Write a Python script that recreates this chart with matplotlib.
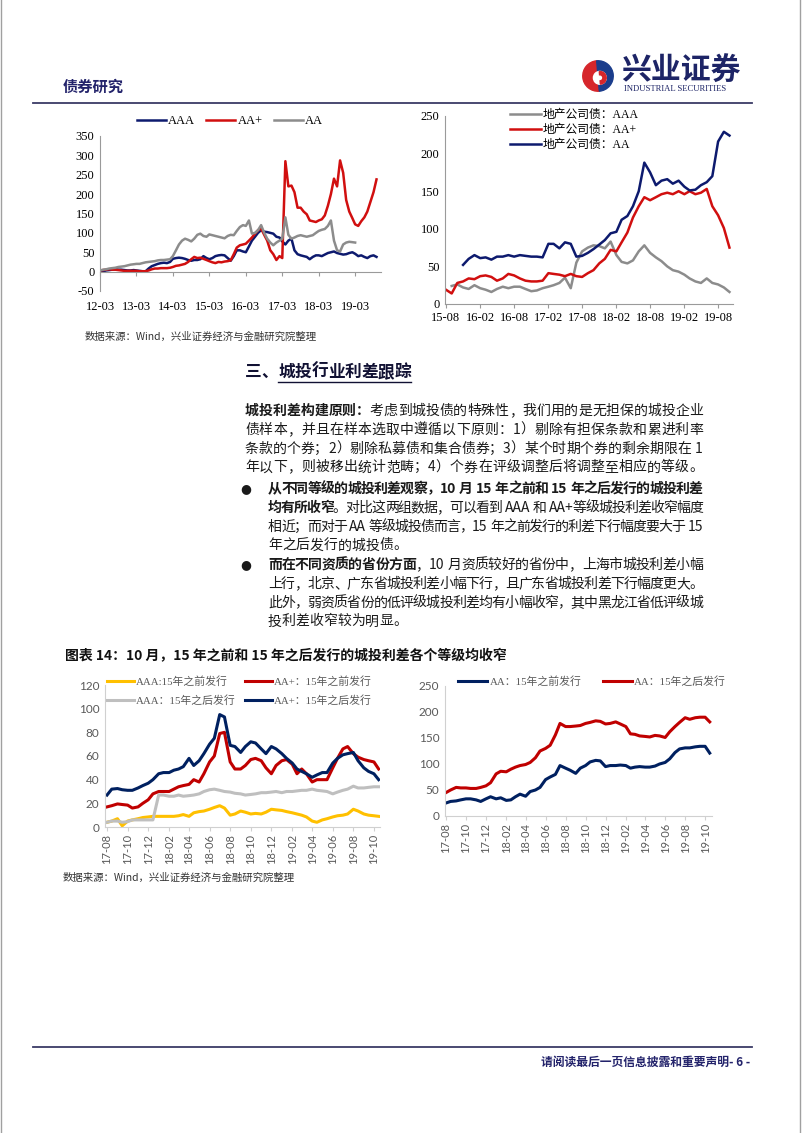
import numpy as np
import pandas as pd
import matplotlib
matplotlib.use('Agg')
import matplotlib.pyplot as plt
import matplotlib.dates as mdates
from matplotlib.patches import Wedge, Circle
from matplotlib.lines import Line2D

nan = np.nan
W, H = 802, 1133

# ---- 图1：城投利差（月度，2012-03 起）----
dates_1 = pd.date_range('2012-03-01', periods=92, freq='MS')
aaa_1 = [0, 1, 3, 4, 5, 6, 5, 5, 4, 3, 3, 4,
         3, 2, 1, 1, 8, 14, 17, 20, 22, 23, 22, 25,
         33, 35, 36, 35, 33, 30, 28, 30, 30, 32, 40, 35,
         32, 35, 40, 42, 43, 42, 35, 28, 40, 55, 55, 52,
         50, 65, 80, 90, 100, 107, 103, 102, 100, 98, 90, 88,
         78, 70, 80, 85, 55, 45, 42, 40, 38, 32, 38, 42,
         42, 40, 44, 48, 50, 52, 48, 46, 44, 45, 48, 50,
         46, 40, 42, 38, 35, 40, 42, 38]
aaplus_1 = [3, 4, 5, 6, 5, 5, 4, 3, 2, 2, 2, 2,
            2, 1, 1, 1, 3, 6, 8, 8, 9, 9, 9, 10,
            12, 15, 16, 18, 20, 25, 32, 38, 35, 36, 33, 30,
            27, 24, 22, 25, 24, 26, 27, 29, 45, 62, 68, 70,
            72, 80, 88, 98, 107, 111, 95, 80, 55, 45, 30, 40,
            35, 285, 220, 222, 205, 165, 165, 155, 148, 132, 130, 128,
            132, 135, 145, 170, 200, 240, 220, 287, 255, 185, 155, 138,
            122, 118, 130, 140, 155, 180, 205, 238]
aa_1 = [3, 5, 6, 8, 9, 10, 12, 13, 14, 16, 18, 19,
        20, 20, 22, 24, 25, 26, 27, 29, 30, 30, 31, 32,
        40, 55, 70, 80, 85, 82, 78, 85, 95, 98, 92, 90,
        96, 94, 92, 90, 88, 86, 92, 95, 94, 105, 115, 120,
        118, 132, 98, 100, 107, 120, 100, 85, 75, 68, 75, 80,
        85, 140, 95, 85, 88, 92, 94, 92, 90, 92, 94, 100,
        105, 108, 110, 118, 132, 80, 55, 52, 70, 75, 77, 76,
        75, nan, nan, nan, nan, nan, nan, nan]

# ---- 图2：地产公司债（月度，2015-08 起）----
dates_2 = pd.date_range('2015-08-01', periods=51, freq='MS')
re_aaa = [nan, 24, 26, 22, 20, 25, 21, 19, 16, 20, 23, 21,
          23, 23, 20, 17, 18, 21, 23, 25, 28, 35, 21, 55,
          70, 75, 78, 77, 74, 83, 65, 56, 54, 58, 70, 78,
          68, 62, 57, 50, 45, 43, 39, 34, 30, 28, 34, 28,
          26, 22, 16]
re_aaplus = [19, 14, 28, 30, 34, 33, 37, 38, 36, 31, 34, 40,
             38, 34, 31, 30, 30, 31, 41, 40, 39, 37, 40, 37,
             36, 41, 45, 54, 60, 72, 70, 82, 95, 115, 130, 142,
             138, 142, 146, 148, 146, 150, 146, 150, 146, 148, 153, 130,
             118, 101, 75]
re_aa = [nan, nan, nan, 52, 60, 65, 61, 62, 59, 63, 63, 65,
         63, 65, 64, 63, 63, 62, 80, 80, 74, 82, 80, 63,
         64, 68, 73, 79, 85, 94, 96, 112, 117, 130, 150, 188,
         175, 158, 164, 166, 160, 164, 156, 151, 152, 158, 162, 170,
         216, 229, 224]

# ---- 图3/图4：15年之前/之后发行（半月，2017-08 起）----
dates_b = pd.date_range('2017-08-01', periods=54, freq='SMS')
aaa_pre = [4, 5, 7, 1, 5, 6, 7, 8, 8.5, 9, 9, 9, 9, 9, 9.5, 10.5, 9, 12, 13, 13.5,
           15, 16.5, 18, 16, 10, 11, 13.5, 12.5, 11, 11.5, 11, 12.5, 15, 14.5, 14, 13,
           12, 11, 10, 8.5, 5, 4, 6, 7, 8.5, 9.5, 10, 11, 15, 13.5, 11, 10, 9.5, 9]
aaplus_pre = [17, 18, 19.5, 19, 18.5, 16, 17, 20, 23, 28, 30, 30, 30, 32, 34, 35, 36, 40,
              38, 45, 55, 60, 79, 80, 55, 49, 49, 52, 57, 58, 56, 50, 45, 52, 56, 57,
              53, 45, 49, 45, 38, 40, 40, 40, 50, 58, 66, 68, 62, 59, 57, 56, 55, 49]
aaa_post = [4, 5, 5, 4, 4.5, 6, 6, 6, 6, 6, 27, 27, 26, 26, 27, 26, 26.5, 27, 28, 30,
            31.5, 32, 31, 30, 29.5, 28.5, 28, 27, 27.5, 28, 29, 29, 29.5, 30, 29, 30,
            30, 30.5, 31, 31, 32, 31, 30.5, 30, 28, 29.5, 31, 32, 34.5, 33, 33, 33.5, 34, 34]
aaplus_post = [27, 32, 32.5, 31.5, 31, 31, 33, 35, 37, 40, 45, 46, 46, 48, 49, 51, 58, 52,
               56, 62, 70, 75, 95, 93, 69, 68, 63, 68, 72, 71, 66, 62, 68, 66, 62, 58,
               54, 49, 47, 45, 42, 44, 46, 46, 54, 58, 61, 62, 63, 56, 50, 47, 45, 40]
aa_pre = [25, 28, 29, 31, 33, 33, 31, 28, 33, 37, 33, 35, 30, 31, 37, 42, 38, 47,
          50, 55, 70, 75, 80, 97, 92, 88, 82, 92, 97, 104, 107, 106, 95, 97, 97, 98,
          97, 92, 94, 95, 94, 94, 96, 100, 103, 110, 122, 129, 131, 131, 133, 134, 134, 121]
aa_post = [45, 50, 55, 54, 54, 53, 53, 55, 58, 64, 81, 86, 85, 90, 94, 97, 99, 103,
           112, 125, 130, 136, 156, 178, 172, 172, 173, 174, 178, 180, 183, 182, 177, 178, 181, 177,
           172, 158, 157, 154, 153, 152, 155, 154, 151, 162, 172, 180, 189, 186, 189, 190, 190, 181]

NAVY = '#0d1a6e'
RED = '#d10f0f'
GRAY = '#8c8c8c'
CJK = ['Noto Sans CJK SC', 'DejaVu Sans']
SERIF_CJK = ['Liberation Serif', 'Noto Sans CJK SC']

plt.rcParams['axes.unicode_minus'] = False
plt.rcParams['font.family'] = SERIF_CJK

fig = plt.figure(figsize=(W / 100, H / 100), dpi=100)
renderer = fig.canvas.get_renderer()


def box(l, t, r, b):
    return [l / W, 1 - b / H, (r - l) / W, (b - t) / H]


def fx(x):
    return x / W


def fy(y):
    return 1 - y / H


def tokens(parts):
    # 汉字逐字拆开，连续的西文字符保持在一起
    out = []
    for s, bold in parts:
        buf = ''
        for ch in s:
            if ch.isascii() and ch != ' ':
                buf += ch
                continue
            if buf:
                out.append((buf, bold))
                buf = ''
            out.append((ch, bold))
        if buf:
            out.append((buf, bold))
    return out


def write_line(x, y, parts, size=10, color='#1a1a1a', right=None):
    # 一行文字，可分段加粗；给出 right 时两端对齐
    toks = tokens(parts)
    arts, widths = [], []
    for s, bold in toks:
        if s == ' ':
            arts.append(None)
            widths.append(size * 100 / 72 * 0.3)
            continue
        t = fig.text(fx(x), fy(y), s, fontsize=size, family=CJK, color=color,
                     fontweight='bold' if bold else 'normal', va='center', ha='left')
        arts.append(t)
        widths.append(t.get_window_extent(renderer).width)
    gap = 0
    if right is not None and len(toks) > 1:
        gap = (right - x - sum(widths)) / (len(toks) - 1)
    cx = x
    for t, w in zip(arts, widths):
        if t is not None:
            t.set_x(fx(cx))
        cx += w + gap
    return cx - gap


# 页面边框、页眉页脚
fig.add_artist(Line2D([fx(1), fx(1)], [0, 1], color='#a0a0a0', lw=1))
fig.add_artist(Line2D([fx(800), fx(800)], [0, 1], color='#a0a0a0', lw=1))
fig.add_artist(Line2D([fx(33), fx(752)], [fy(103), fy(103)], color='#3a3a66', lw=1.3))
fig.add_artist(Line2D([fx(33), fx(752)], [fy(1047), fy(1047)], color='#3a3a66', lw=1.3))
fig.text(fx(63), fy(87), '债券研究', fontsize=11, family=CJK, color='#23236b',
         fontweight='bold', va='center')
fig.text(fx(750), fy(1062), '请阅读最后一页信息披露和重要声明- 6 -', fontsize=8.5, family=CJK,
         color='#23236b', fontweight='bold', va='center', ha='right')

# 徽标
ax_logo = fig.add_axes(box(582, 60, 614, 92))
ax_logo.set_xlim(-1.05, 1.05)
ax_logo.set_ylim(-1.05, 1.05)
ax_logo.set_aspect('equal')
ax_logo.axis('off')
ax_logo.add_patch(Wedge((0, 0), 1, 95, 275, color='#d6262b'))
ax_logo.add_patch(Wedge((0, 0), 1, 275, 95, color='#1b3d8c'))
ax_logo.add_patch(Circle((0.12, -0.12), 0.42, color='white'))
ax_logo.add_patch(Wedge((0.12, -0.12), 0.42, 275, 95, width=0.22, color='#d6262b'))
fig.text(fx(621), fy(71), '兴业证券', fontsize=21.5, family=CJK, color='#1d2466',
         fontweight='bold', va='center')
fig.text(fx(624), fy(89), 'INDUSTRIAL SECURITIES', fontsize=6.2, family='Liberation Serif',
         color='#1d2466', va='center')

# ---- 图1 ----
ax1 = fig.add_axes(box(100, 136, 381, 291))
ax1.plot(dates_1, aaa_1, color=NAVY, lw=1.8, label='AAA')
ax1.plot(dates_1, aaplus_1, color=RED, lw=1.8, label='AA+')
ax1.plot(dates_1, aa_1, color=GRAY, lw=1.8, label='AA')
ax1.set_ylim(-50, 350)
ax1.set_yticks(range(-50, 351, 50))
ax1.set_xlim(pd.Timestamp('2012-03-01'), pd.Timestamp('2019-11-15'))
ax1.set_xticks(pd.date_range('2012-03-01', '2019-03-01', freq='12MS'))
ax1.xaxis.set_major_formatter(mdates.DateFormatter('%y-%m'))
for s in ['top', 'right']:
    ax1.spines[s].set_visible(False)
ax1.spines['bottom'].set_position(('data', 0))
for s in ['left', 'bottom']:
    ax1.spines[s].set_color('#9a9a9a')
ax1.tick_params(axis='y', labelsize=9, length=0, pad=4)
ax1.tick_params(axis='x', labelsize=9, length=3, color='#9a9a9a', pad=18)
ax1.legend(loc='upper center', bbox_to_anchor=(fx(230), fy(115)), bbox_transform=fig.transFigure,
           ncol=3, frameon=False, fontsize=9, handlelength=2.3, handletextpad=0.2,
           columnspacing=0.9, borderpad=0, borderaxespad=0)

# ---- 图2 ----
ax2 = fig.add_axes(box(445, 116, 733, 304))
ax2.plot(dates_2, re_aaa, color=GRAY, lw=1.8, label='地产公司债：AAA')
ax2.plot(dates_2, re_aaplus, color=RED, lw=1.8, label='地产公司债：AA+')
ax2.plot(dates_2, re_aa, color=NAVY, lw=1.8, label='地产公司债：AA')
ax2.set_ylim(0, 250)
ax2.set_yticks(range(0, 251, 50))
ax2.set_xlim(pd.Timestamp('2015-07-27'), pd.Timestamp('2019-10-20'))
ax2.set_xticks(pd.date_range('2015-08-01', '2019-08-01', freq='6MS'))
ax2.xaxis.set_major_formatter(mdates.DateFormatter('%y-%m'))
for s in ['top', 'right']:
    ax2.spines[s].set_visible(False)
for s in ['left', 'bottom']:
    ax2.spines[s].set_color('#9a9a9a')
ax2.tick_params(axis='y', labelsize=9, length=0, pad=4)
ax2.tick_params(axis='x', labelsize=9, length=3, color='#9a9a9a', pad=3)
ax2.legend(loc='upper left', bbox_to_anchor=(fx(510), fy(109)), bbox_transform=fig.transFigure,
           frameon=False, fontsize=8.5, handlelength=2.6, handletextpad=0.2,
           labelspacing=0.25, borderpad=0, borderaxespad=0)

# 数据来源
SRC = '数据来源：Wind，兴业证券经济与金融研究院整理'
fig.text(fx(85), fy(337), SRC, fontsize=7.5, family=CJK, color='#333333', va='center')

# ---- 正文 ----
head_x = write_line(245, 372, [('三、', True)], size=12, color='#111133')
end_x = write_line(head_x, 372, [('城投行业利差跟踪', True)], size=12, color='#111133')
fig.add_artist(Line2D([fx(head_x), fx(end_x)], [fy(382), fy(382)], color='#111133', lw=1))

RIGHT = 703
LINE = 18.8
para = [
    [('城投利差构建原则：', True), ('考虑到城投债的特殊性，我们用的是无担保的城投企业', False)],
    [('债样本，并且在样本选取中遵循以下原则：1）剔除有担保条款和累进利率', False)],
    [('条款的个券；2）剔除私募债和集合债券；3）某个时期个券的剩余期限在 1', False)],
    [('年以下，则被移出统计范畴；4）个券在评级调整后将调整至相应的等级。', False)],
]
for i, parts in enumerate(para):
    write_line(245, 411 + i * LINE, parts, right=RIGHT)

bullet1 = [
    [('从不同等级的城投利差观察，10 月 15 年之前和 15 年之后发行的城投利差', True)],
    [('均有所收窄', True), ('。对比这两组数据，可以看到 AAA 和 AA+等级城投利差收窄幅度', False)],
    [('相近；而对于 AA 等级城投债而言，15 年之前发行的利差下行幅度要大于 15', False)],
    [('年之后发行的城投债。', False)],
]
bullet2 = [
    [('而在不同资质的省份方面', True), ('，10 月资质较好的省份中，上海市城投利差小幅', False)],
    [('上行，北京、广东省城投利差小幅下行，且广东省城投利差下行幅度更大。', False)],
    [('此外，弱资质省份的低评级城投利差均有小幅收窄，其中黑龙江省低评级城', False)],
    [('投利差收窄较为明显。', False)],
]
for y0, block in [(489, bullet1), (565, bullet2)]:
    fig.text(fx(240), fy(y0), '●', fontsize=9, family='DejaVu Sans', color='#1a1a1a', va='center')
    for i, parts in enumerate(block):
        last = i == len(block) - 1
        write_line(268, y0 + i * LINE, parts, right=None if last else RIGHT)

fig.text(fx(65), fy(656), '图表 14：10 月，15 年之前和 15 年之后发行的城投利差各个等级均收窄',
         fontsize=10, family=CJK, fontweight='bold', color='#111111', va='center')


def style_bottom(ax):
    for s in ['top', 'right']:
        ax.spines[s].set_visible(False)
    for s in ['left', 'bottom']:
        ax.spines[s].set_color('#d0d0d0')
    ax.tick_params(axis='y', labelsize=8.5, length=0, pad=4, labelcolor='#595959')
    ax.tick_params(axis='x', labelsize=8, length=3, color='#d0d0d0', labelcolor='#595959',
                   rotation=90, pad=2)
    for lab in ax.get_xticklabels() + ax.get_yticklabels():
        lab.set_family('Lato')
    ax.xaxis.set_major_formatter(mdates.DateFormatter('%y-%m'))


# ---- 图3 ----
ax3 = fig.add_axes(box(105, 685, 380, 827))
ax3.plot(dates_b, aaa_pre, color='#ffc000', lw=2.2, label='AAA:15年之前发行')
ax3.plot(dates_b, aaa_post, color='#bfbfbf', lw=2.2, label='AAA：15年之后发行')
ax3.plot(dates_b, aaplus_pre, color='#c00000', lw=2.2, label='AA+：15年之前发行')
ax3.plot(dates_b, aaplus_post, color='#002060', lw=2.2, label='AA+：15年之后发行')
ax3.set_ylim(0, 120)
ax3.set_yticks(range(0, 121, 20))
ax3.set_xlim(pd.Timestamp('2017-07-26'), pd.Timestamp('2019-10-19'))
ax3.set_xticks(pd.date_range('2017-08-01', '2019-10-01', freq='2MS'))
style_bottom(ax3)
ax3.legend(loc='upper left', bbox_to_anchor=(fx(107), fy(676)), bbox_transform=fig.transFigure,
           ncol=2, frameon=False, prop={'family': SERIF_CJK, 'size': 7.8}, labelcolor='#595959',
           handlelength=2.5, handletextpad=0.2, columnspacing=0.8, labelspacing=0.75,
           borderpad=0, borderaxespad=0)

# ---- 图4 ----
ax4 = fig.add_axes(box(445, 686, 712, 816))
ax4.plot(dates_b, aa_pre, color='#002060', lw=2.2, label='AA：15年之前发行')
ax4.plot(dates_b, aa_post, color='#c00000', lw=2.2, label='AA：15年之后发行')
ax4.set_ylim(0, 250)
ax4.set_yticks(range(0, 251, 50))
ax4.set_xlim(pd.Timestamp('2017-07-29'), pd.Timestamp('2019-10-22'))
ax4.set_xticks(pd.date_range('2017-08-01', '2019-10-01', freq='2MS'))
style_bottom(ax4)
ax4.legend(loc='upper left', bbox_to_anchor=(fx(458), fy(676)), bbox_transform=fig.transFigure,
           ncol=2, frameon=False, prop={'family': SERIF_CJK, 'size': 7.8}, labelcolor='#595959',
           handlelength=2.7, handletextpad=0.2, columnspacing=2.0,
           borderpad=0, borderaxespad=0)

fig.text(fx(63), fy(878), SRC, fontsize=7.5, family=CJK, color='#333333', va='center')

fig.savefig('out.png', dpi=100)
